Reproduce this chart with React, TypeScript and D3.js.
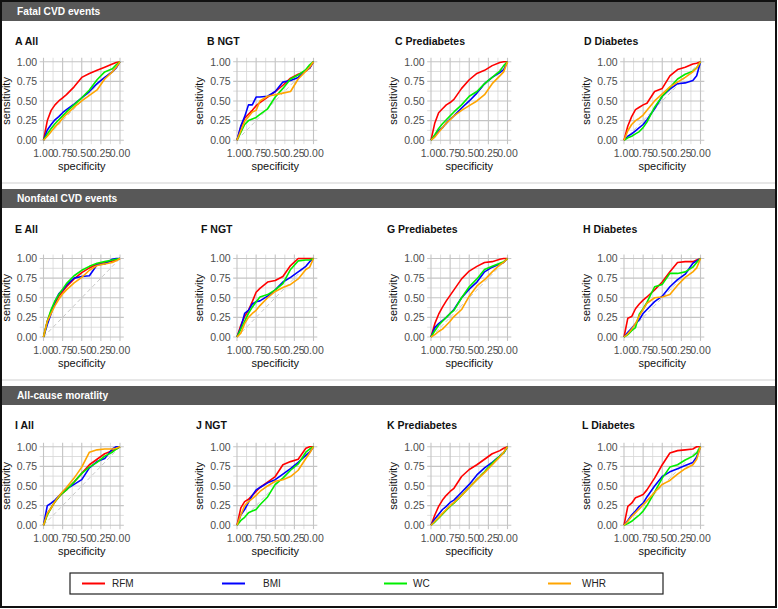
import React from "react";
import * as d3 from "d3";

const SERIES = ["RFM", "BMI", "WC", "WHR"];
const COLORS = ["#ff0000", "#0000ff", "#00ee00", "#ffa500"];
const SECTIONS = ["Fatal CVD events", "Nonfatal CVD events", "All-cause moratlity"];
const PANEL_TITLES = [
  ["A All", "B NGT", "C Prediabetes", "D Diabetes"],
  ["E All", "F NGT", "G Prediabetes", "H Diabetes"],
  ["I All", "J NGT", "K Prediabetes", "L Diabetes"],
];
const TICKS = [0, 0.25, 0.5, 0.75, 1];
const MINOR = [0.125, 0.375, 0.625, 0.875];
const SPEC = [1, 0.95, 0.9, 0.85, 0.8, 0.75, 0.7, 0.6, 0.5, 0.4, 0.3, 0.2, 0.1, 0.05, 0];

// sensitivity at each SPEC value, series order RFM, BMI, WC, WHR
const sensA = [
  [0, .25, .38, .45, .50, .54, .58, .68, .80, .85, .89, .93, .97, .99, 1],
  [0, .13, .20, .26, .30, .35, .39, .46, .54, .62, .72, .80, .87, .92, 1],
  [0, .08, .15, .21, .26, .31, .36, .45, .54, .64, .77, .87, .91, .96, 1],
  [0, .05, .11, .17, .22, .28, .33, .42, .50, .57, .64, .78, .87, .93, 1],
];
const sensB = [
  [0, .17, .28, .33, .38, .44, .48, .55, .62, .70, .79, .84, .88, .92, 1],
  [0, .18, .30, .45, .45, .55, .55, .56, .62, .74, .76, .80, .89, .92, 1],
  [0, .10, .20, .25, .27, .29, .33, .40, .55, .66, .78, .83, .90, .96, 1],
  [0, .12, .24, .30, .36, .38, .50, .56, .58, .60, .62, .78, .88, .93, 1],
];
const sensC = [
  [0, .22, .35, .40, .45, .48, .52, .66, .77, .85, .89, .95, .99, 1, 1],
  [0, .06, .12, .16, .22, .27, .31, .41, .50, .60, .72, .80, .86, .90, 1],
  [0, .07, .15, .21, .26, .31, .36, .45, .56, .62, .72, .80, .88, .95, 1],
  [0, .04, .10, .16, .22, .26, .31, .38, .44, .50, .58, .72, .82, .87, 1],
];
const sensD = [
  [0, .18, .30, .39, .42, .45, .47, .62, .66, .82, .90, .93, .97, .98, 1],
  [0, .05, .08, .12, .16, .20, .26, .40, .56, .65, .72, .73, .76, .82, 1],
  [0, .03, .05, .08, .11, .16, .23, .42, .56, .67, .78, .84, .88, .92, 1],
  [0, .12, .20, .25, .28, .32, .38, .50, .59, .68, .74, .80, .87, .92, 1],
];
const sensE = [
  [0, .20, .33, .43, .52, .58, .64, .74, .82, .88, .93, .95, .97, .98, 1],
  [0, .16, .30, .45, .55, .60, .66, .75, .77, .78, .92, .93, .99, 1, 1],
  [0, .20, .35, .46, .54, .61, .68, .78, .85, .90, .94, .96, .98, .99, 1],
  [0, .20, .30, .40, .48, .55, .60, .69, .76, .85, .91, .93, .95, .97, 1],
];
const sensF = [
  [0, .15, .26, .34, .45, .57, .62, .70, .72, .77, .91, 1, 1, 1, 1],
  [0, .12, .30, .34, .42, .45, .46, .52, .60, .70, .76, .83, .90, .96, 1],
  [0, .10, .20, .30, .38, .45, .51, .54, .60, .68, .86, .97, .98, .98, 1],
  [0, .05, .17, .25, .30, .34, .40, .50, .58, .63, .67, .74, .86, .89, 1],
];
const sensG = [
  [0, .17, .29, .38, .46, .53, .60, .74, .84, .90, .95, .96, .99, 1, 1],
  [0, .12, .17, .21, .25, .30, .35, .50, .61, .70, .83, .89, .93, .95, 1],
  [0, .08, .15, .20, .25, .30, .34, .50, .64, .74, .86, .90, .94, .96, 1],
  [0, .03, .07, .10, .15, .20, .26, .35, .52, .65, .73, .83, .92, .95, 1],
];
const sensH = [
  [0, .24, .26, .36, .42, .47, .51, .60, .70, .83, .95, .96, .96, .98, 1],
  [0, .06, .11, .17, .22, .30, .35, .45, .52, .64, .73, .80, .94, .97, 1],
  [0, .03, .08, .12, .29, .36, .44, .64, .67, .81, .81, .83, .89, .95, 1],
  [0, .04, .10, .17, .27, .35, .43, .50, .51, .54, .66, .76, .83, .88, 1],
];
const sensI = [
  [0, .15, .22, .30, .36, .41, .45, .55, .66, .77, .84, .91, .95, .97, 1],
  [0, .25, .28, .32, .37, .42, .46, .52, .58, .73, .81, .85, .97, 1, 1],
  [0, .13, .22, .30, .36, .41, .45, .55, .66, .74, .80, .88, .93, .97, 1],
  [0, .15, .22, .30, .37, .43, .48, .60, .74, .93, .96, .97, .97, .98, 1],
];
const sensJ = [
  [0, .22, .30, .33, .38, .43, .48, .55, .62, .77, .81, .84, .98, 1, 1],
  [0, .13, .20, .29, .38, .45, .48, .54, .58, .65, .72, .80, .89, .93, 1],
  [0, .06, .10, .16, .18, .20, .26, .36, .52, .60, .70, .78, .93, .97, 1],
  [0, .13, .25, .30, .34, .38, .43, .50, .56, .58, .62, .70, .85, .92, 1],
];
const sensK = [
  [0, .13, .24, .32, .38, .43, .47, .62, .71, .77, .84, .91, .95, .98, 1],
  [0, .08, .14, .20, .24, .29, .32, .42, .52, .64, .73, .80, .88, .92, 1],
  [0, .04, .09, .14, .19, .24, .28, .38, .48, .58, .68, .79, .88, .92, 1],
  [0, .05, .10, .15, .20, .25, .29, .38, .48, .58, .67, .77, .87, .93, 1],
];
const sensL = [
  [0, .24, .28, .35, .37, .39, .45, .60, .77, .92, .95, .96, .97, 1, 1],
  [0, .06, .13, .18, .24, .28, .36, .50, .62, .68, .72, .76, .80, .87, 1],
  [0, .02, .05, .09, .13, .18, .25, .42, .60, .74, .77, .83, .88, .92, 1],
  [0, .05, .11, .16, .21, .26, .31, .42, .52, .57, .65, .72, .77, .84, 1],
];
const PANEL_DATA = [
  [sensA, sensB, sensC, sensD],
  [sensE, sensF, sensG, sensH],
  [sensI, sensJ, sensK, sensL],
];

const W = 778, H = 609;
const FONT = "'Liberation Sans', Arial, sans-serif";
const COL_X = [43.5, 237, 431, 624];
const ROW_TOP = [61.7, 258.5, 446.7];
const UNIT_W = 76.5, UNIT_H = 78.5;
const TITLE_X = [[15, 207, 395, 584], [15, 201, 387, 583], [15, 196, 387, 582]];
const TITLE_Y = [41.5, 229, 425];
const HEADER_Y = [2, 189, 386];

function Panel({ r, c }: { r: number; c: number }) {
  const x = d3.scaleLinear().domain([1, 0]).range([COL_X[c], COL_X[c] + UNIT_W]);
  const y = d3.scaleLinear().domain([0, 1]).range([ROW_TOP[r] + UNIT_H, ROW_TOP[r]]);
  const x0 = x(1.05), x1 = x(-0.05), y0 = y(-0.05), y1 = y(1.05);
  const line = d3.line<[number, number]>().x(d => x(d[0])).y(d => y(d[1]));
  const data = PANEL_DATA[r][c];
  return (
    <g>
      <text x={TITLE_X[r][c]} y={TITLE_Y[r] + 3.8} fontFamily={FONT} fontWeight="bold" fontSize={10.5} fill="#111">
        {PANEL_TITLES[r][c]}
      </text>
      <rect x={x0} y={y1} width={x1 - x0} height={y0 - y1} fill="#fff" />
      {MINOR.map(t => (
        <g key={"m" + t}>
          <line x1={x(t)} x2={x(t)} y1={y1} y2={y0} stroke="#d6d6d6" strokeWidth={0.8} />
          <line x1={x0} x2={x1} y1={y(t)} y2={y(t)} stroke="#d6d6d6" strokeWidth={0.8} />
        </g>
      ))}
      {TICKS.map(t => (
        <g key={"t" + t}>
          <line x1={x(t)} x2={x(t)} y1={y1} y2={y0} stroke="#c4c4c4" strokeWidth={1.1} />
          <line x1={x0} x2={x1} y1={y(t)} y2={y(t)} stroke="#c4c4c4" strokeWidth={1.1} />
          <text x={x(t)} y={y(0) + 17} textAnchor="middle" fontFamily={FONT} fontSize={10.5} fill="#4d4d4d">
            {d3.format(".2f")(t)}
          </text>
          <text x={x0 - 2.5} y={y(t) + 3.8} textAnchor="end" fontFamily={FONT} fontSize={10.5} fill="#4d4d4d">
            {d3.format(".2f")(t)}
          </text>
        </g>
      ))}
      <line x1={x(1)} y1={y(0)} x2={x(0)} y2={y(1)} stroke="#c8c8c8" strokeWidth={1} strokeDasharray="4,3" />
      {data.map((s, i) => (
        <path key={i} d={line(SPEC.map((sp, k) => [sp, s[k]] as [number, number])) || ""} fill="none"
          stroke={COLORS[i]} strokeWidth={1.6} strokeLinejoin="round" />
      ))}
      <text x={(x0 + x1) / 2} y={y(0) + 29.5} textAnchor="middle" fontFamily={FONT} fontSize={11} fill="#111">
        specificity
      </text>
      <text transform={`translate(${COL_X[c] - 34},${y(0.5)}) rotate(-90)`} textAnchor="middle"
        fontFamily={FONT} fontSize={11} fill="#111">
        sensitivity
      </text>
    </g>
  );
}

export default function App() {
  const legendX = [82, 222, 384, 548];
  const legendTextX = [112, 263, 413, 582];
  return (
    <svg width={W} height={H} style={{ position: "absolute", left: 0, top: 0, background: "#fff" }}>
      <rect x={0} y={0} width={W} height={H} fill="#fff" />
      {SECTIONS.map((s, r) => (
        <g key={s}>
          <rect x={2} y={HEADER_Y[r]} width={774} height={19} fill="#585858" />
          <text x={17} y={HEADER_Y[r] + 13} fontFamily={FONT} fontWeight="bold" fontSize={10.2} fill="#fff">{s}</text>
        </g>
      ))}
      <line x1={2} x2={776} y1={183} y2={183} stroke="#cfcfcf" strokeWidth={1} />
      <line x1={2} x2={776} y1={380} y2={380} stroke="#cfcfcf" strokeWidth={1} />
      {PANEL_TITLES.map((row, r) => row.map((_, c) => <Panel key={r + "-" + c} r={r} c={c} />))}
      <rect x={70} y={573} width={593} height={21} fill="#fff" stroke="#222" strokeWidth={1.2} />
      {SERIES.map((s, i) => (
        <g key={s}>
          <line x1={legendX[i]} x2={legendX[i] + 23} y1={583.5} y2={583.5} stroke={COLORS[i]} strokeWidth={2} />
          <text x={legendTextX[i]} y={587} fontFamily={FONT} fontSize={10} fill="#222">{s}</text>
        </g>
      ))}
      <rect x={1} y={1} width={775} height={606} fill="none" stroke="#111" strokeWidth={2} />
    </svg>
  );
}
